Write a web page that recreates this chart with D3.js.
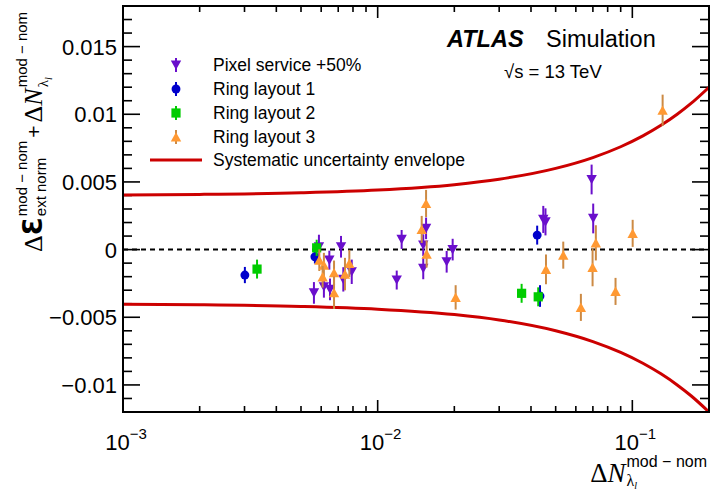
<!DOCTYPE html>
<html><head><meta charset="utf-8">
<script src="https://cdn.jsdelivr.net/npm/d3@7"></script>
<style>body{margin:0;background:#fff}svg{display:block}</style>
</head><body><svg id="c" width="711" height="490"></svg>
<script>
// ---- data ----
const pixelX   = [0.00562,0.00615,0.0065,0.00646,0.00718,0.00733,0.00791,0.00588,0.01188,0.01242,0.01549,0.0151,0.0151,0.0197,0.01866,0.0447,0.0456,0.0692,0.0702];
const pixelY   = [-0.0032,-0.00275,-0.00294,-0.00078,0.00021,-0.0022,-0.00164,0.0002,-0.00225,0.00075,0.00157,0.00033,-0.00139,0.0,-0.0009,0.00223,0.00205,0.00518,0.0023];
const pixelErr = [0.0008,0.0008,0.0008,0.0007,0.0008,0.0009,0.0009,0.0009,0.0007,0.0007,0.0008,0.0008,0.0008,0.0008,0.0008,0.001,0.001,0.0011,0.0011];

const ring1X   = [0.00301,0.00567,0.0423,0.0434];
const ring1Y   = [-0.00188,-0.00053,0.00107,-0.00343];
const ring1Err = [0.0006,0.0005,0.0007,0.0008];

const ring2X   = [0.00336,0.00576,0.03675,0.0427];
const ring2Y   = [-0.00144,0.00013,-0.00323,-0.00349];
const ring2Err = [0.0007,0.0006,0.0007,0.0007];

const ring3X   = [0.0059,0.00615,0.00608,0.00674,0.00674,0.00774,0.00744,0.01549,0.01489,0.01557,0.02024,0.0458,0.05355,0.0628,0.0719,0.0698,0.0859,0.1003,0.1315];
const ring3Y   = [-0.00078,-0.00114,-0.00201,-0.00171,-0.00319,-0.00102,-0.00181,0.00341,0.00149,-0.00033,-0.00353,-0.00146,-0.00041,-0.00427,0.0005,-0.00131,-0.00309,0.0012,0.0103];
const ring3Err = [0.0008,0.0009,0.0008,0.0009,0.0012,0.001,0.0012,0.001,0.001,0.001,0.0009,0.0011,0.001,0.001,0.0013,0.0014,0.001,0.001,0.00115];

const envX    = [0.001,0.002,0.005,0.01,0.02,0.03,0.05,0.07,0.09,0.11,0.13,0.15,0.17,0.2];
const envUp   = [0.00404,0.00408,0.0042,0.0044,0.0048,0.0052,0.006,0.0068,0.0076,0.0084,0.0092,0.0100,0.0108,0.0120];
const envDown = [-0.00404,-0.00408,-0.0042,-0.0044,-0.0048,-0.0052,-0.006,-0.0068,-0.0076,-0.0084,-0.0092,-0.0100,-0.0108,-0.0120];

const seriesNames = ["Pixel service +50%","Ring layout 1","Ring layout 2","Ring layout 3"];
const envName = "Systematic uncertainty envelope";
const yTickValues = [-0.01,-0.005,0,0.005,0.01,0.015];
const yTickLabels = ["\u22120.01","\u22120.005","0","0.005","0.01","0.015"];
const xTickValues = [0.001,0.01,0.1];
const xTickExps   = ["\u22123","\u22122","\u22121"];

// ---- layout ----
const svg = d3.select("#c");
const L=123,R=709,T=6,B=412;
const x = d3.scaleLog().domain([1e-3,0.2]).range([L,R]);
const y = d3.scaleLinear().domain([-0.012,0.018]).range([B,T]);
const SANS = "'Liberation Sans', Arial, Helvetica, sans-serif";
const SERIF = "'Liberation Serif', 'Times New Roman', serif";

svg.append("defs").append("clipPath").attr("id","pc")
  .append("rect").attr("x",L).attr("y",T).attr("width",R-L).attr("height",B-T);

// ---- ticks ----
const tg = svg.append("g").attr("stroke","#000").attr("stroke-width",1.6);
const yMinor = d3.range(-12,19).map(v=>v/1000);
yMinor.forEach(v=>{
  const major = yTickValues.some(m=>Math.abs(m-v)<1e-9);
  const len = major?17:9;
  tg.append("line").attr("x1",L).attr("x2",L+len).attr("y1",y(v)).attr("y2",y(v));
  tg.append("line").attr("x1",R).attr("x2",R-len).attr("y1",y(v)).attr("y2",y(v));
});
const xAll = [];
[0.001,0.01,0.1].forEach(d=>{for(let k=1;k<=9;k++){const v=k*d; if(v<=0.2+1e-12) xAll.push({v,major:k===1});}});
xAll.push({v:0.2,major:false});
xAll.forEach(t=>{
  const len = t.major?12:6;
  const px = x(t.v);
  tg.append("line").attr("x1",px).attr("x2",px).attr("y1",B).attr("y2",B-len);
  tg.append("line").attr("x1",px).attr("x2",px).attr("y1",T).attr("y2",T+len);
});

// y tick labels
yTickValues.forEach((v,i)=>{
  svg.append("text").attr("x",117).attr("y",y(v)+8)
    .attr("text-anchor","end").attr("font-family",SANS).attr("font-size",22)
    .text(yTickLabels[i]);
});
// x tick labels
xTickValues.forEach((v,i)=>{
  const t = svg.append("text").attr("x",x(v)+3).attr("y",450)
    .attr("text-anchor","middle").attr("font-family",SANS).attr("font-size",22);
  t.append("tspan").text("10");
  t.append("tspan").attr("font-size",15).attr("dy",-11).text(xTickExps[i]);
});

// ---- zero line ----
svg.append("line").attr("x1",L).attr("x2",R).attr("y1",y(0)).attr("y2",y(0))
  .attr("stroke","#000").attr("stroke-width",2).attr("stroke-dasharray","5,4");

// ---- envelope ----
const line = d3.line().x(d=>x(d[0])).y(d=>y(d[1])).curve(d3.curveMonotoneX);
const pg = svg.append("g").attr("clip-path","url(#pc)");
[envUp,envDown].forEach(arr=>{
  pg.append("path").attr("d",line(envX.map((v,i)=>[v,arr[i]])))
    .attr("fill","none").attr("stroke","#cc0000").attr("stroke-width",3);
});

// ---- markers ----
function shape(kind){
  if(kind==="down") return "M-5.2,-4.6L5.2,-4.6L0,4.8Z";
  if(kind==="up") return "M-5.2,4.6L5.2,4.6L0,-4.8Z";
  if(kind==="square") return "M-4.6,-4.6H4.6V4.6H-4.6Z";
  return d3.symbol().type(d3.symbolCircle).size(62)();
}
const series = [
  {xs:pixelX,ys:pixelY,es:pixelErr,color:"#6a0fcc",ecolor:"#6a0fcc",kind:"down"},
  {xs:ring1X,ys:ring1Y,es:ring1Err,color:"#0000cc",ecolor:"#0000cc",kind:"circle"},
  {xs:ring2X,ys:ring2Y,es:ring2Err,color:"#00cc00",ecolor:"#00cc00",kind:"square"},
  {xs:ring3X,ys:ring3Y,es:ring3Err,color:"#ff9933",ecolor:"#cc8a44",kind:"up"}
];
series.forEach(s=>{
  const g = pg.append("g");
  s.xs.forEach((xv,i)=>{
    g.append("line").attr("x1",x(xv)).attr("x2",x(xv))
      .attr("y1",y(s.ys[i]-s.es[i])).attr("y2",y(s.ys[i]+s.es[i]))
      .attr("stroke",s.ecolor).attr("stroke-width",2);
    g.append("path").attr("d",shape(s.kind))
      .attr("transform",`translate(${x(xv)},${y(s.ys[i])})`).attr("fill",s.color);
  });
});

// ---- frame ----
svg.append("rect").attr("x",L).attr("y",T).attr("width",R-L).attr("height",B-T)
  .attr("fill","none").attr("stroke","#000").attr("stroke-width",2);

// ---- legend ----
const rows=[65,89,113,137];
series.forEach((s,i)=>{
  svg.append("line").attr("x1",176).attr("x2",176).attr("y1",rows[i]-7).attr("y2",rows[i]+7)
    .attr("stroke",s.ecolor).attr("stroke-width",2);
  svg.append("path").attr("d",shape(s.kind)).attr("transform",`translate(176,${rows[i]})`).attr("fill",s.color);
  svg.append("text").attr("x",213).attr("y",rows[i]+6).attr("font-family",SANS).attr("font-size",17.5).text(seriesNames[i]);
});
svg.append("line").attr("x1",150).attr("x2",202).attr("y1",160).attr("y2",160).attr("stroke","#cc0000").attr("stroke-width",3);
svg.append("text").attr("x",213).attr("y",166).attr("font-family",SANS).attr("font-size",17.5).text(envName);

// ---- ATLAS label ----
svg.append("text").attr("x",447).attr("y",47).attr("font-family",SANS).attr("font-size",23.5)
  .attr("font-weight","bold").attr("font-style","italic").text("ATLAS");
svg.append("text").attr("x",546).attr("y",47).attr("font-family",SANS).attr("font-size",23.5).text("Simulation");
svg.append("text").attr("x",504).attr("y",78).attr("font-family",SANS).attr("font-size",18.5).text("\u221As = 13 TeV");

// ---- axis titles ----
function place(g, str, x0, dy, size, opts={}){
  const t = g.append("text").attr("x",x0).attr("y",dy).attr("font-size",size)
    .attr("font-family",opts.family||SANS).text(str);
  if(opts.bold) t.attr("font-weight","bold");
  if(opts.italic) t.attr("font-style","italic");
  return t.node().getComputedTextLength();
}
// y title
{
  const g = svg.append("g").attr("transform","translate(42,252) rotate(-90)");
  let cx=0;
  cx += place(g,"\u0394",cx,0,26,{family:SERIF});
  cx += place(g,"\u0190",cx,0,26,{family:"'DejaVu Sans', sans-serif",bold:true}) + 1;
  const a = place(g,"mod \u2212 nom",cx,-15,15);
  const b = place(g,"ext norm",cx,4,15);
  cx += Math.max(a,b) + 3;
  cx += place(g,"+",cx,-1,21) + 3;
  cx += place(g,"\u0394",cx,0,26,{family:SERIF});
  cx += place(g,"N",cx,0,26,{family:SERIF,italic:true}) + 1;
  place(g,"mod \u2212 nom",cx,-15,15);
  const lw = place(g,"\u03BB",cx,6,15,{family:SERIF});
  place(g,"l",cx+lw,10,10,{family:SERIF,italic:true});
}
// x title
{
  const g = svg.append("g");
  const tmp = g.append("text").attr("font-size",16).attr("font-family",SANS).text("mod \u2212 nom");
  const supW = tmp.node().getComputedTextLength(); tmp.remove();
  const xs = 707 - supW;
  const cx = xs - 1;
  const nW = (()=>{const t=g.append("text").attr("font-size",27).attr("font-family",SERIF).attr("font-style","italic").text("N");const w=t.node().getComputedTextLength();t.remove();return w;})();
  const dW = (()=>{const t=g.append("text").attr("font-size",27).attr("font-family",SERIF).text("\u0394");const w=t.node().getComputedTextLength();t.remove();return w;})();
  place(g,"\u0394",cx-nW-dW,482,27,{family:SERIF});
  place(g,"N",cx-nW,482,27,{family:SERIF,italic:true});
  place(g,"mod \u2212 nom",xs,467,16);
  const lw = place(g,"\u03BB",xs,486,16,{family:SERIF});
  place(g,"l",xs+lw,489,10,{family:SERIF,italic:true});
}
</script></body></html>
